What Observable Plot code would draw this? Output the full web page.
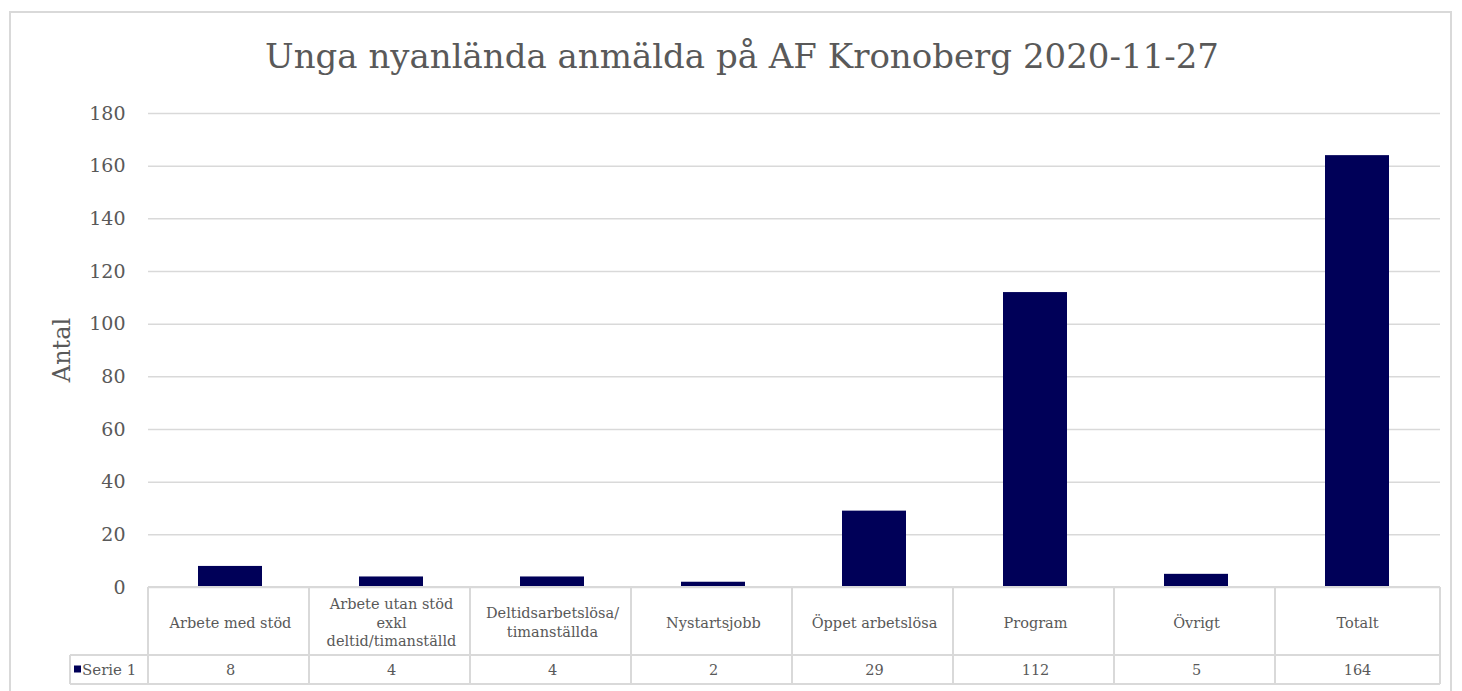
<!DOCTYPE html>
<html><head><meta charset="utf-8">
<script src="https://cdn.jsdelivr.net/npm/d3@7"></script>
<script src="https://cdn.jsdelivr.net/npm/@observablehq/plot@0.6"></script>
<style>
body{margin:0;background:#fff;}
#wrap{position:relative;width:1462px;height:691px;overflow:hidden;}
#frame{position:absolute;left:9px;top:11px;width:1443px;height:700px;border:2px solid #d9d9d9;box-sizing:border-box;}
#title{position:absolute;left:142px;width:1200px;top:39px;text-align:center;font-family:"DejaVu Serif";font-size:34px;color:#595959;white-space:nowrap;line-height:1;}
#chart{position:absolute;left:0;top:0;}
</style></head><body>
<div id="wrap"><div id="frame"></div><div id="title">Unga nyanlända anmälda på AF Kronoberg 2020-11-27</div><div id="chart"></div></div>
<script>
const categories = ["Arbete med stöd", "Arbete utan stöd exkl deltid/timanställd", "Deltidsarbetslösa/ timanställda", "Nystartsjobb", "Öppet arbetslösa", "Program", "Övrigt", "Totalt"];
const categoryLabels = ["Arbete med stöd", "Arbete utan stöd\nexkl\ndeltid/timanställd", "Deltidsarbetslösa/\ntimanställda", "Nystartsjobb", "Öppet arbetslösa", "Program", "Övrigt", "Totalt"];
const values = [8, 4, 4, 2, 29, 112, 5, 164];
const seriesName = "Serie 1";
const yTicks = [0, 20, 40, 60, 80, 100, 120, 140, 160, 180];
const yLabel = "Antal";

const barColor = "#000058";
const gray = "#595959";
const lineColor = "#d9d9d9";
const font = "DejaVu Serif";

const data = categories.map((c, i) => ({cat: c, label: categoryLabels[i], value: values[i]}));

const plot = Plot.plot({
  width: 1462,
  height: 691,
  marginTop: 113,
  marginBottom: 104,
  marginLeft: 148,
  marginRight: 22,
  style: {fontFamily: font, color: gray, background: "transparent"},
  x: {domain: categories, paddingInner: 0.6, paddingOuter: 0.3, axis: null},
  y: {domain: [0, 180], axis: null},
  marks: [
    Plot.gridY(yTicks, {stroke: lineColor, strokeOpacity: 1, strokeWidth: 1.5}),
    Plot.axisY(yTicks, {tickSize: 0, tickPadding: 23, fontSize: 19, fill: gray, label: null, tickFormat: d => String(d)}),
    Plot.barY(data, {x: "cat", y: "value", fill: barColor}),
    Plot.text(data, {x: "cat", text: "label", frameAnchor: "bottom", dy: 34, lineAnchor: "middle", fontSize: 14.5, fill: gray, lineHeight: 1.3}),
    Plot.text(data, {x: "cat", text: d => String(d.value), frameAnchor: "bottom", dy: 83, lineAnchor: "middle", fontSize: 14.5, fill: gray})
  ]
});
document.getElementById("chart").appendChild(plot);

// data table grid drawn from the plot's scales
const xs = plot.scale("x");
const ys = plot.scale("y");
const svg = d3.select(plot);
const x0 = xs.range[0], x1 = xs.range[1];
const step = xs.step;
const yTop = ys.apply(0);
const yMid = yTop + 68;
const yBot = yTop + 97;
const xLegend = 70;
const g = svg.append("g").attr("stroke", lineColor).attr("stroke-width", 2);
g.append("line").attr("x1", x0).attr("x2", x1).attr("y1", yTop).attr("y2", yTop);
g.append("line").attr("x1", xLegend).attr("x2", x1).attr("y1", yMid).attr("y2", yMid);
g.append("line").attr("x1", xLegend).attr("x2", x1).attr("y1", yBot).attr("y2", yBot);
g.append("line").attr("x1", xLegend).attr("x2", xLegend).attr("y1", yMid).attr("y2", yBot);
categories.forEach((c, i) => {
  const xb = x0 + i * step;
  g.append("line").attr("x1", xb).attr("x2", xb).attr("y1", yTop).attr("y2", yBot);
});
g.append("line").attr("x1", x1).attr("x2", x1).attr("y1", yTop).attr("y2", yBot);
svg.append("rect").attr("x", xLegend + 4).attr("y", (yMid + yBot) / 2 - 4).attr("width", 7).attr("height", 7).attr("fill", barColor);
svg.append("text").attr("x", xLegend + 12).attr("y", (yMid + yBot) / 2).attr("dy", "0.35em")
  .attr("text-anchor", "start").attr("font-size", 15).attr("fill", gray).attr("font-family", font).text(seriesName);

// y-axis title
svg.append("text").attr("transform", `translate(62,${(ys.apply(0) + ys.apply(180)) / 2}) rotate(-90)`)
  .attr("text-anchor", "middle").attr("dy", "0.35em").attr("font-size", 24).attr("fill", gray).attr("font-family", font).text(yLabel);
</script>
</body></html>
